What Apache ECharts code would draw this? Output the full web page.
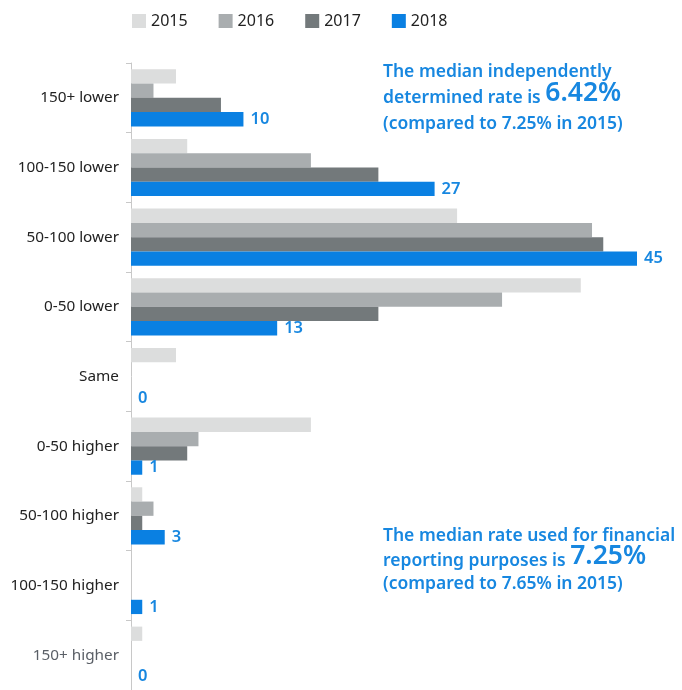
<!DOCTYPE html>
<html>
<head>
<meta charset="utf-8">
<script src="https://cdn.jsdelivr.net/npm/echarts@6/dist/echarts.min.js"></script>
<style>html,body{margin:0;padding:0;background:#fff;}#c{width:682px;height:690px;}</style>
</head>
<body>
<div id="c"></div>
<script>
var categories = ['150+ lower','100-150 lower','50-100 lower','0-50 lower','Same','0-50 higher','50-100 higher','100-150 higher','150+ higher'];
var seriesNames = ['2015','2016','2017','2018'];
var s2015 = [4,5,29,40,4,16,1,0,1];
var s2016 = [2,16,41,33,0,6,2,0,0];
var s2017 = [8,22,42,22,0,5,1,0,0];
var s2018 = [10,27,45,13,0,1,3,1,0];
var colors = ['#dcdddd','#a9adaf','#73797b','#0a80e2'];
var blue = '#1787e0';
var font = 'Noto Sans';

var chart = echarts.init(document.getElementById('c'));
var allData = [s2015,s2016,s2017,s2018];
var series = seriesNames.map(function(n,i){
  var s = {
    name:n, type:'bar', data:allData[i], barGap:'0%', barCategoryGap:'18%',
    itemStyle:{color:colors[i]}, emphasis:{disabled:true}, animation:false
  };
  if(i===3){
    s.label = {show:true, position:'right', distance:7, color:blue, fontFamily:font, fontSize:16.5, fontWeight:600};
  }
  return s;
});
var small = {fill:blue, fontFamily:font, fontSize:17.5, fontWeight:600, verticalAlign:'bottom'};
var big = {fill:blue, fontFamily:font, fontSize:26.5, fontWeight:600, verticalAlign:'bottom'};
chart.setOption({
  animation:false,
  textStyle:{fontFamily:font},
  legend:{
    data:seriesNames, left:127, top:8, itemWidth:14, itemHeight:14, itemGap:31,
    icon:'rect', textStyle:{fontSize:16, color:'#222', fontFamily:font}, selectedMode:false
  },
  grid:{left:131, right:45, top:63, bottom:-1, containLabel:false},
  xAxis:{type:'value', min:0, max:45, show:false},
  yAxis:{
    type:'category', data:categories, inverse:true,
    axisLine:{show:true, lineStyle:{color:'#c8c8c8'}},
    axisTick:{show:true, length:5, lineStyle:{color:'#c8c8c8'}},
    axisLabel:{margin:12, fontSize:15.3, fontFamily:font,
      color:function(v,i){ return v==='150+ higher' ? '#5a5f66' : '#222'; }}
  },
  graphic:[
    {type:'text', left:383, top:63, style:{text:'The median independently', fill:blue, font:'600 17.5px "Noto Sans"'}},
    {type:'text', left:383, top:80, style:{rich:{a:small, b:big}, text:'{a|determined rate is }{b|6.42%}'}},
    {type:'text', left:383, top:115, style:{text:'(compared to 7.25% in 2015)', fill:blue, font:'600 17.5px "Noto Sans"'}},
    {type:'text', left:383, top:527, style:{text:'The median rate used for financial', fill:blue, font:'600 17.5px "Noto Sans"'}},
    {type:'text', left:383, top:543, style:{rich:{a:small, b:big}, text:'{a|reporting purposes is }{b|7.25%}'}},
    {type:'text', left:383, top:575, style:{text:'(compared to 7.65% in 2015)', fill:blue, font:'600 17.5px "Noto Sans"'}}
  ],
  series:series
});
</script>
</body>
</html>
